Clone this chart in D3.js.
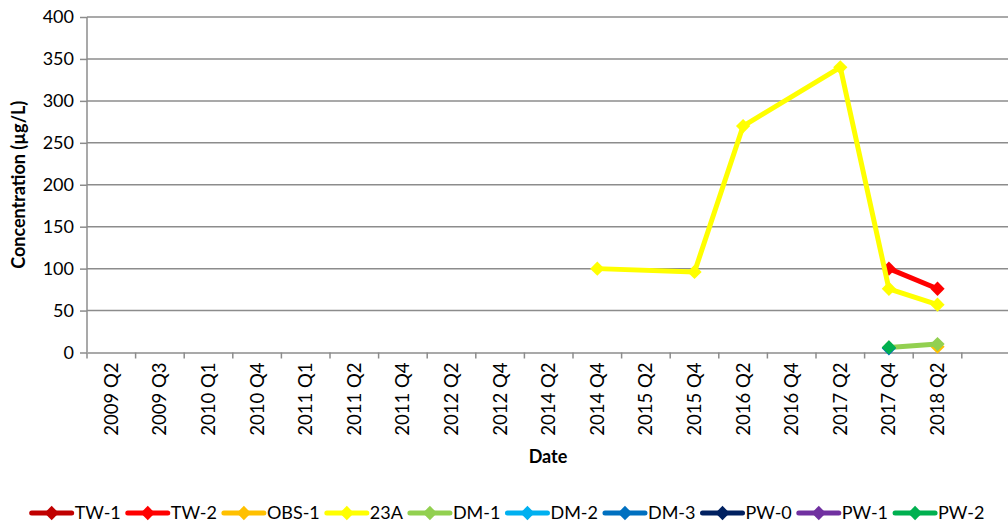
<!DOCTYPE html>
<html>
<head>
<meta charset="utf-8">
<script src="https://cdn.jsdelivr.net/npm/d3@7"></script>
<style>
  body { margin: 0; background: #fff; }
  text { font-family: Lato, "Open Sans", sans-serif; fill: #000; }
</style>
</head>
<body>
<div id="chart"></div>
<script>
// categories (last slot is empty in the original)
var dates = ["2009 Q2", "2009 Q3", "2010 Q1", "2010 Q4", "2011 Q1", "2011 Q2", "2011 Q4",
    "2012 Q2", "2012 Q4", "2014 Q2", "2014 Q4", "2015 Q2", "2015 Q4", "2016 Q2",
    "2016 Q4", "2017 Q2", "2017 Q4", "2018 Q2", ""];
var yTicks = [0, 50, 100, 150, 200, 250, 300, 350, 400];

var seriesNames = ["TW-1", "TW-2", "OBS-1", "23A", "DM-1", "DM-2", "DM-3", "PW-0", "PW-1", "PW-2"];
var seriesColors = ["#C00000", "#FF0000", "#FFC000", "#FFFF00", "#92D050", "#00B0F0", "#0070C0", "#002060", "#7030A0", "#00B050"];

// values per series: [date, value]
var tw1 = [];
var tw2 = [["2017 Q4", 100], ["2018 Q2", 76]];
var obs1 = [["2018 Q2", 7]];
var a23 = [["2014 Q4", 100], ["2015 Q4", 96], ["2016 Q2", 270], ["2017 Q2", 340], ["2017 Q4", 76], ["2018 Q2", 57]];
var dm1 = [["2017 Q4", 6], ["2018 Q2", 10]];
var dm2 = [];
var dm3 = [["2017 Q4", 5]];
var pw0 = [];
var pw1 = [];
var pw2 = [["2017 Q4", 6]];
var seriesData = [tw1, tw2, obs1, a23, dm1, dm2, dm3, pw0, pw1, pw2];

var W = 1008, H = 525;
var margin = {top: 17, left: 87},
    plotW = 48.6 * dates.length,
    plotH = 352.5 - margin.top;

var svg = d3.select("#chart").append("svg")
    .attr("width", W).attr("height", H);

var g = svg.append("g")
    .attr("transform", "translate(" + margin.left + "," + margin.top + ")");

var x = d3.scaleBand().domain(dates).range([0, plotW]);
var y = d3.scaleLinear().domain([0, 400]).range([plotH, 0]);

// gridlines
g.selectAll(".grid")
    .data(yTicks.slice(1))
    .enter().append("line")
    .attr("x1", 0).attr("x2", plotW)
    .attr("y1", function(d) { return y(d); })
    .attr("y2", function(d) { return y(d); })
    .attr("stroke", "#8c8c8c").attr("stroke-width", 1.5);

// y axis
var yAxis = g.append("g")
    .call(d3.axisLeft(y).tickValues(yTicks).tickSize(7).tickPadding(6));
yAxis.select(".domain").attr("stroke", "#8c8c8c").attr("stroke-width", 1.5).attr("d", "M0," + plotH + "V0");
yAxis.selectAll(".tick line").attr("stroke", "#8c8c8c").attr("stroke-width", 1.5);
yAxis.selectAll("text").style("font-size", "18px").attr("font-family", null);

// x axis
var xAxis = g.append("g")
    .attr("transform", "translate(0," + plotH + ")")
    .call(d3.axisBottom(x).tickSize(0));
xAxis.select(".domain").attr("stroke", "#8c8c8c").attr("stroke-width", 1.5);
xAxis.selectAll(".tick line").remove();
xAxis.selectAll(".tick text")
    .style("font-size", "18.5px")
    .attr("font-family", null)
    .attr("transform", "rotate(-90)")
    .attr("x", -10).attr("y", 0).attr("dy", "0.35em")
    .style("text-anchor", "end");
// category boundary ticks
g.selectAll(".xtick")
    .data(dates)
    .enter().append("line")
    .attr("x1", function(d) { return x(d); })
    .attr("x2", function(d) { return x(d); })
    .attr("y1", plotH).attr("y2", plotH + 6)
    .attr("stroke", "#8c8c8c").attr("stroke-width", 1.5);

// axis titles
svg.append("text")
    .attr("transform", "translate(25," + (margin.top + plotH / 2) + ") rotate(-90)")
    .attr("text-anchor", "middle")
    .style("font-size", "18px").style("font-weight", "bold")
    .text("Concentration (µg/L)");
svg.append("text")
    .attr("x", 548).attr("y", 463)
    .attr("text-anchor", "middle")
    .style("font-size", "18px").style("font-weight", "bold")
    .text("Date");

// series
var cx = function(d) { return x(d[0]) + x.bandwidth() / 2; };
var line = d3.line().x(cx).y(function(d) { return y(d[1]); });
var diamond = d3.symbol().type(d3.symbolDiamond2).size(130);

seriesData.forEach(function(data, i) {
    var s = g.append("g");
    s.append("path")
        .datum(data)
        .attr("d", line)
        .attr("fill", "none")
        .attr("stroke", seriesColors[i])
        .attr("stroke-width", 5)
        .attr("stroke-linejoin", "round");
    s.selectAll("path.m")
        .data(data)
        .enter().append("path")
        .attr("class", "m")
        .attr("d", diamond)
        .attr("transform", function(d) { return "translate(" + cx(d) + "," + y(d[1]) + ")"; })
        .attr("fill", seriesColors[i]);
});

// legend
var legend = svg.append("g");
var lx = 0;
seriesNames.forEach(function(name, i) {
    var item = legend.append("g").attr("transform", "translate(" + lx + ",0)");
    item.append("line")
        .attr("x1", 0).attr("x2", 40).attr("y1", 0).attr("y2", 0)
        .attr("stroke", seriesColors[i]).attr("stroke-width", 5)
        .attr("stroke-linecap", "round");
    item.append("path")
        .attr("d", diamond)
        .attr("transform", "translate(20,0)")
        .attr("fill", seriesColors[i]);
    var t = item.append("text")
        .attr("x", 43).attr("dy", "0.35em")
        .style("font-size", "18px")
        .text(name);
    lx += 43 + t.node().getComputedTextLength() + 7;
});
legend.attr("transform", "translate(" + (508 - (lx - 7) / 2) + ",513)");
</script>
</body>
</html>
